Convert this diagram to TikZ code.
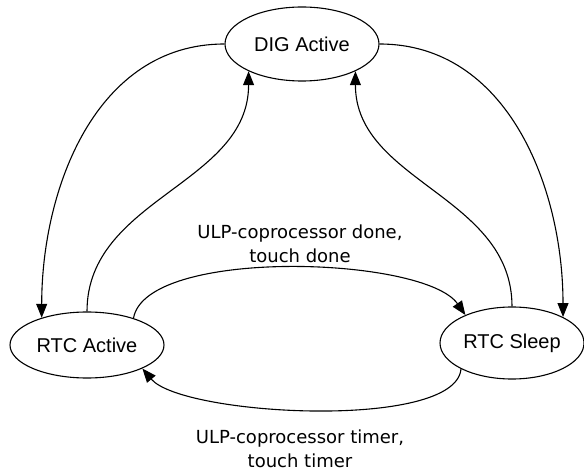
\documentclass[tikz,border=0pt]{standalone}
\usepackage{fontspec}
\setmainfont{Liberation Sans}
\newfontfamily\labelfont{DejaVu Sans}
\usetikzlibrary{shapes.geometric,arrows.meta}

\begin{document}
\begin{tikzpicture}[x=1pt,y=1pt,
        stateell/.style={ellipse,draw,line width=1.1pt,inner sep=0pt,
                font=\fontsize{20}{24}\selectfont},
        trans/.style={-{Triangle[length=14pt,width=11pt]},line width=1.1pt},
        lbl/.style={align=center,font=\labelfont\fontsize{18}{24}\selectfont}]
        \useasboundingbox (0,0) rectangle (584,472);

        \node[stateell,minimum width=154pt,minimum height=74pt] (DIG) at (302,428) {DIG Active};
        \node[stateell,minimum width=154pt,minimum height=66pt] (RA) at (87,127) {RTC Active};
        \node[stateell,minimum width=144pt,minimum height=72pt] (RS) at (512,129) {RTC Sleep};

        \node[lbl] (DONE) at (300,228) {ULP-coprocessor done,\\touch done};
        \node[lbl] (TIMER) at (300,23) {ULP-coprocessor timer,\\touch timer};

        \path[trans]
        (DIG.west) edge[out=180,in=90] (RA.149)
        (DIG.east) edge[out=0,in=90] (RS.27)
        (RA.north) edge[out=90,in=-90] (DIG.207)
        (RS.north) edge[out=90,in=-90] (DIG.333)
        (RA.30) edge[out=80,in=125,distance=72pt] (RS.149)
        (RS.207) edge[out=-95,in=-50,distance=62pt] (RA.337);
\end{tikzpicture}
\end{document}
